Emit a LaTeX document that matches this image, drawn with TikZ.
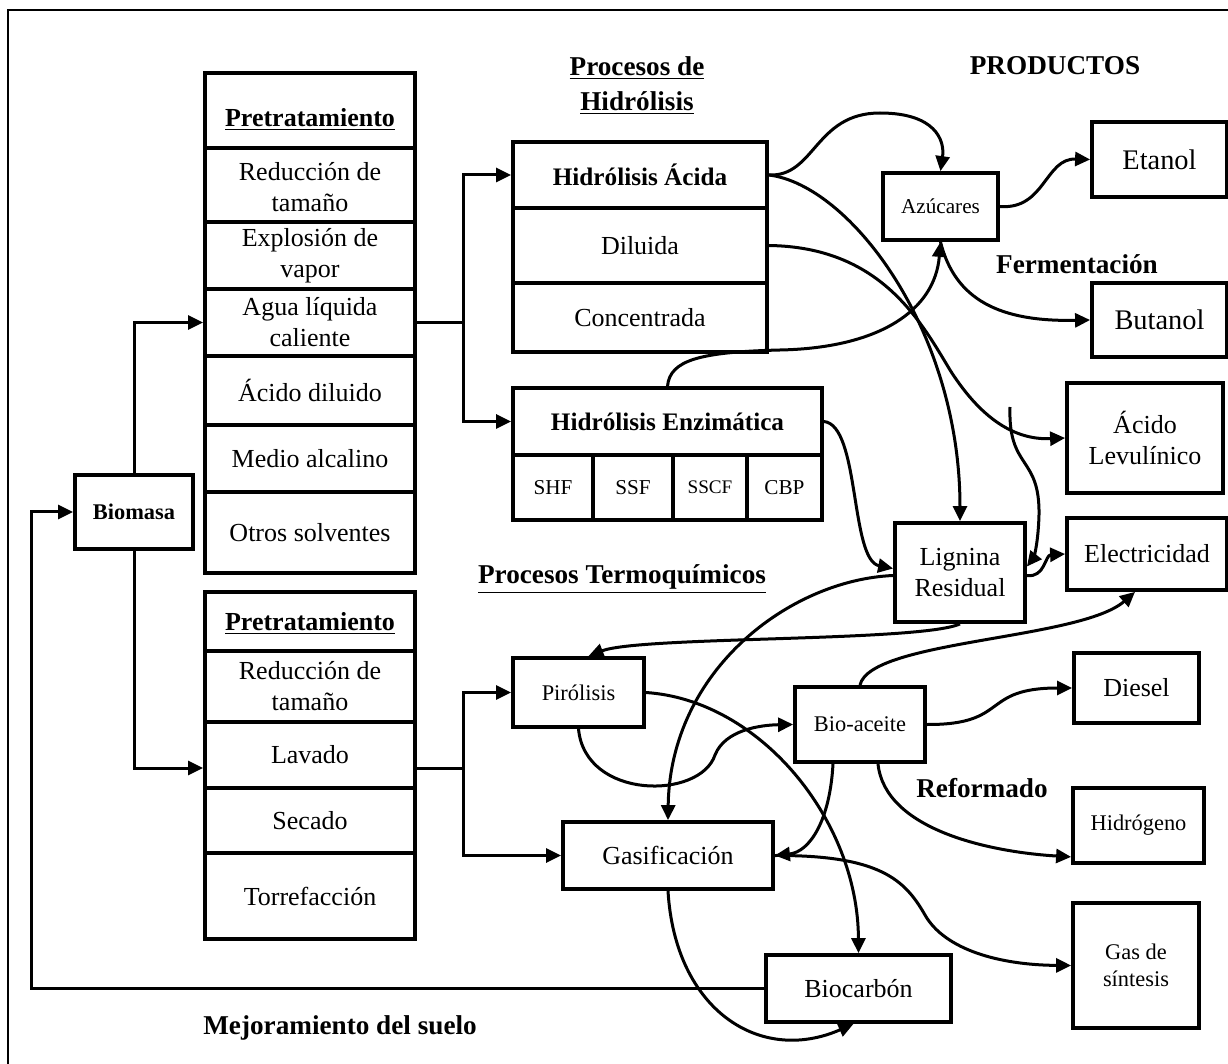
\documentclass[tikz,border=0pt]{standalone}
\usepackage{fontspec}
\setmainfont{Liberation Serif}
\usetikzlibrary{arrows.meta,calc}

% font sizes
\newcommand{\fsN}{\fontsize{13}{15.5}\selectfont}
\newcommand{\fsS}{\fontsize{11.2}{13.4}\selectfont}
\newcommand{\fsXS}{\fontsize{10.6}{12.5}\selectfont}
\newcommand{\fsXXS}{\fontsize{9.6}{11.5}\selectfont}
\newcommand{\fsL}{\fontsize{14.2}{17}\selectfont}
\newcommand{\fsH}{\fontsize{12.6}{15}\selectfont}
\newcommand{\fsHead}{\fontsize{13.6}{16.5}\selectfont\bfseries}
\newcommand{\fsBio}{\fontsize{11.2}{13}\selectfont}

% lowers a text inside its box without changing the box size
\newcommand{\lowered}[2]{\raisebox{-#1}[\height][\depth]{#2}}

% box given by its corners (in pixel units of the picture)
\newcommand{\cellbox}[7][]{%
  \pgfmathsetmacro{\cbx}{(#3+#5)/2}%
  \pgfmathsetmacro{\cby}{(#4+#6)/2}%
  \pgfmathsetmacro{\cbw}{(#5-#3)/2}%
  \pgfmathsetmacro{\cbh}{(#6-#4)/2}%
  \node[box,minimum width=\cbw pt,minimum height=\cbh pt,#1] (#2) at (\cbx,\cby) {#7};}

\begin{document}
\begin{tikzpicture}[x=0.5pt,y=-0.5pt,
  box/.style={draw, line width=1.9pt, inner sep=0pt, align=center, font=\fsN},
  head/.style={inner sep=0pt, align=center, font=\fsHead},
  conn/.style={line width=1.5pt},
  arr/.style={conn, -{Triangle[length=7.5pt,width=7pt]}}]

\useasboundingbox (0,0) rectangle (1228,1064);
% outer frame
\draw[line width=1pt] (8,1070) -- (8,10) -- (1240,10);

% pretreatment for hydrolysis
\cellbox{pre1}{205}{73}{415}{148}{\lowered{4.5pt}{\textbf{\underline{Pretratamiento}}}}
\cellbox{red1}{205}{148}{415}{222}{\lowered{2.5pt}{\begin{tabular}{@{}c@{}}Reducción de\\tamaño\end{tabular}}}
\cellbox{exp}{205}{222}{415}{289}{Explosión de\\vapor}
\cellbox{agua}{205}{289}{415}{356}{Agua líquida\\caliente}
\cellbox{acd}{205}{356}{415}{425}{Ácido diluido}
\cellbox{med}{205}{425}{415}{492}{Medio alcalino}
\cellbox{otr}{205}{492}{415}{573}{Otros solventes}

% pretreatment for thermochemical routes
\cellbox{pre2}{205}{592}{415}{651}{\lowered{1pt}{\textbf{\underline{Pretratamiento}}}}
\cellbox{red2}{205}{651}{415}{722}{Reducción de\\tamaño}
\cellbox{lav}{205}{722}{415}{788}{Lavado}
\cellbox{sec}{205}{788}{415}{853}{Secado}
\cellbox{tor}{205}{853}{415}{939}{Torrefacción}

\cellbox[font=\fsBio]{bms}{75}{475}{193}{549}{\textbf{Biomasa}}

% hydrolysis
\cellbox[font=\fsH]{aci}{513}{142}{767}{208}{\textbf{Hidrólisis Ácida}}
\cellbox{dil}{513}{208}{767}{283}{Diluida}
\cellbox{con}{513}{283}{767}{352}{Concentrada}
\cellbox[font=\fsH]{enz}{513}{388}{822}{455}{\textbf{Hidrólisis Enzimática}}
\cellbox[font=\fsXS]{shf}{513}{455}{593}{520}{SHF}
\cellbox[font=\fsXS]{ssf}{593}{455}{673}{520}{SSF}
\cellbox[font=\fsXXS]{sscf}{673}{455}{747}{520}{SSCF}
\cellbox[font=\fsXS]{cbp}{747}{455}{822}{520}{CBP}

% intermediates and products
\cellbox[font=\fsXS]{azu}{883}{173}{998}{240}{Azúcares}
\cellbox[font=\fsL]{eta}{1092}{122}{1227}{197}{Etanol}
\cellbox[font=\fsL]{but}{1092}{283}{1227}{357}{Butanol}
\cellbox{lev}{1067}{383}{1223}{493}{Ácido\\Levulínico}
\cellbox{ele}{1067}{518}{1227}{590}{Electricidad}
\cellbox{lig}{895}{523}{1025}{622}{Lignina\\Residual}
\cellbox[font=\fsS]{pir}{513}{658}{644}{727}{Pirólisis}
\cellbox[font=\fsS]{bio}{795}{687}{925}{762}{Bio-aceite}
\cellbox{gas}{563}{822}{773}{889}{Gasificación}
\cellbox{die}{1074}{653}{1199}{723}{Diesel}
\cellbox[font=\fsS]{hid}{1073}{788}{1204}{863}{Hidrógeno}
\cellbox{bch}{766}{955}{951}{1022}{Biocarbón}
\cellbox[font=\fsS]{gs}{1073}{903}{1199}{1028}{Gas de\\síntesis}

% headings
\node[head] (hprod) at (1055,66) {PRODUCTOS};
\node[head] (hhid) at (637,86) {\underline{Procesos de}\\[1pt]\underline{Hidrólisis}};
\node[head] (hfer) at (1077,264) {Fermentación};
\node[head] (href) at (982,788) {Reformado};
\node[head] (hter) at (622,579) {\underline{Procesos Termoquímicos}};
\node[head] (hmej) at (340,1028) {Mejoramiento del suelo};

% feed lines
\coordinate (j1) at (463,322.5);
\coordinate (j2) at (463,768);
\coordinate (fb) at (31,988.5);
\draw[arr] (bms.north) |- (agua.west);
\draw[arr] (bms.south) |- ($(lav.west)+(0,13)$);
\draw[conn] (agua.east) -- (j1);
\draw[arr] (j1) |- (aci.west);
\draw[arr] (j1) |- (enz.west);
\draw[conn] ($(lav.east)+(0,13)$) -- (j2);
\draw[arr] (j2) |- (pir.west);
\draw[arr] (j2) |- (gas.west);
\draw[arr] (bch.west) -- (fb) |- (bms.west);

% hydrolysis routes
\draw[arr] (aci.east) .. controls (815,177) and (815,113) .. (880,113)
  .. controls (935,113) and (945,140) .. (azu.north);
\draw[arr] (aci.east) .. controls (850,185) and (960,330) .. (lig.north);
\draw[arr] (dil.east) .. controls (880,247) and (920,320) .. (950,370)
  .. controls (985,425) and (1020,440) .. (lev.west);
\draw[arr] (enz.north) .. controls (670,360) and (700,352) .. (780,350)
  .. controls (880,348) and (935,310) .. (azu.south);
\draw[arr] (azu.south) .. controls (955,300) and (1000,322) .. (but.west);
\draw[arr] (azu.east) .. controls (1045,210) and (1045,158) .. (eta.west);
\draw[arr] (enz.east) .. controls (860,425) and (850,560) .. ($(lig.west)+(0,-4)$);

% lignin routes
\coordinate (lf) at (1010,407);
\draw[arr] (lf) .. controls (1008,470) and (1040,455) .. (1039,515)
  .. controls (1038,550) and (1032,560) .. ($(lig.east)+(0,-6)$);
\draw[arr] ($(lig.east)+(0,3)$) .. controls (1045,578) and (1045,555) .. (ele.west);
\draw[arr] (lig.south) .. controls (920,642) and (640,636) .. ($(pir.north)+(10,0)$);
\draw[arr] ($(lig.west)+(0,3)$) .. controls (790,580) and (670,670) .. (gas.north);

% thermochemical routes
\draw[arr] (pir.south) .. controls (585,800) and (700,800) .. (715,755)
  .. controls (725,730) and (760,725) .. (bio.west);
\draw[arr] (pir.east) .. controls (760,700) and (858,820) .. (bch.north);
\draw[arr] (bio.north) .. controls (870,640) and (1080,640) .. ($(ele.south)+(-12,0)$);
\draw[arr] (bio.east) .. controls (1010,725) and (980,688) .. (die.west);
\draw[arr] ($(bio.south)+(18,0)$) .. controls (885,830) and (990,852) .. ($(hid.south west)+(0,-8)$);
\draw[arr] ($(bio.south)+(-27,0)$) .. controls (830,820) and (810,852) .. (gas.east);
\draw[arr] (gas.east) .. controls (880,855) and (905,880) .. (925,915)
  .. controls (945,950) and (1000,965) .. (gs.west);
\draw[arr] (gas.south) .. controls (675,1010) and (760,1065) .. ($(bch.south)+(-5,0)$);

\end{tikzpicture}
\end{document}
